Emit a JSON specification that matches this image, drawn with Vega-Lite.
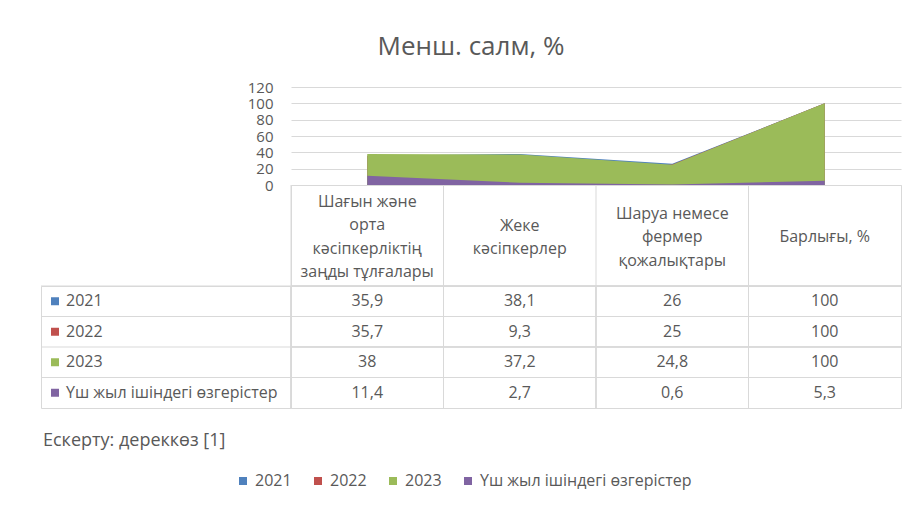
{
  "$schema": "https://vega.github.io/schema/vega-lite/v6.json",
  "padding": {"left": 40, "top": 34, "right": 14, "bottom": 6},
  "title": {"text": "Менш. салм, %", "fontSize": 26, "fontWeight": "normal", "color": "#595959", "anchor": "middle", "offset": 20},
  "spacing": 0,
  "bounds": "flush",
  "columns": 2,
  "datasets": {
    "vals": [
      {"category": "Шағын және орта кәсіпкерліктің заңды тұлғалары", "series": "2021", "value": 35.9},
      {"category": "Жеке кәсіпкерлер", "series": "2021", "value": 38.1},
      {"category": "Шаруа немесе фермер қожалықтары", "series": "2021", "value": 26},
      {"category": "Барлығы, %", "series": "2021", "value": 100},
      {"category": "Шағын және орта кәсіпкерліктің заңды тұлғалары", "series": "2022", "value": 35.7},
      {"category": "Жеке кәсіпкерлер", "series": "2022", "value": 9.3},
      {"category": "Шаруа немесе фермер қожалықтары", "series": "2022", "value": 25},
      {"category": "Барлығы, %", "series": "2022", "value": 100},
      {"category": "Шағын және орта кәсіпкерліктің заңды тұлғалары", "series": "2023", "value": 38},
      {"category": "Жеке кәсіпкерлер", "series": "2023", "value": 37.2},
      {"category": "Шаруа немесе фермер қожалықтары", "series": "2023", "value": 24.8},
      {"category": "Барлығы, %", "series": "2023", "value": 100},
      {"category": "Шағын және орта кәсіпкерліктің заңды тұлғалары", "series": "Үш жыл ішіндегі өзгерістер", "value": 11.4},
      {"category": "Жеке кәсіпкерлер", "series": "Үш жыл ішіндегі өзгерістер", "value": 2.7},
      {"category": "Шаруа немесе фермер қожалықтары", "series": "Үш жыл ішіндегі өзгерістер", "value": 0.6},
      {"category": "Барлығы, %", "series": "Үш жыл ішіндегі өзгерістер", "value": 5.3}
    ],
    "headers": [
      {"category": "Шағын және орта кәсіпкерліктің заңды тұлғалары", "header": "Шағын және\nорта\nкәсіпкерліктің\nзаңды тұлғалары"},
      {"category": "Жеке кәсіпкерлер", "header": "Жеке\nкәсіпкерлер"},
      {"category": "Шаруа немесе фермер қожалықтары", "header": "Шаруа немесе\nфермер\nқожалықтары"},
      {"category": "Барлығы, %", "header": "Барлығы, %"}
    ],
    "seriesList": [
      {"series": "2021"},
      {"series": "2022"},
      {"series": "2023"},
      {"series": "Үш жыл ішіндегі өзгерістер"}
    ],
    "notes": [
      {"note": "Ескерту: дереккөз [1]"}
    ]
  },
  "concat": [
    {
      "width": 250, "height": 98,
      "data": {"name": "notes"},
      "mark": {"type": "text"},
      "encoding": {"text": {"value": ""}},
      "view": {"stroke": null}
    },
    {
      "width": 610, "height": 98,
      "data": {"name": "vals"},
      "mark": {"type": "area", "opacity": 1},
      "encoding": {
        "x": {"field": "category", "type": "nominal", "sort": null,
              "scale": {"type": "point", "padding": 0.5, "domain": ["Шағын және орта кәсіпкерліктің заңды тұлғалары", "Жеке кәсіпкерлер", "Шаруа немесе фермер қожалықтары", "Барлығы, %"]},
              "axis": null},
        "y": {"field": "value", "type": "quantitative", "stack": null,
              "scale": {"domain": [0, 120], "nice": false},
              "axis": {"values": [0, 20, 40, 60, 80, 100, 120], "title": null, "domain": false, "ticks": false,
                       "labelFontSize": 15, "labelColor": "#595959", "gridColor": "#d9d9d9", "labelPadding": 18}},
        "color": {"field": "series", "type": "nominal",
                  "scale": {"domain": ["2021", "2022", "2023", "Үш жыл ішіндегі өзгерістер"], "range": ["#4F81BD", "#C0504D", "#9BBB59", "#8064A2"]},
                  "legend": {"orient": "none", "legendX": 194, "legendY": 386, "direction": "horizontal", "title": null,
                             "symbolType": "square", "symbolSize": 64, "symbolStrokeWidth": 0, "labelFontSize": 16, "labelColor": "#595959",
                             "columnPadding": 18, "labelOffset": 4, "labelLimit": 400}}
      },
      "view": {"stroke": null}
    },
    {
      "width": 250, "height": 101,
      "data": {"name": "notes"},
      "mark": {"type": "text"},
      "encoding": {"text": {"value": ""}},
      "view": {"stroke": null}
    },
    {
      "width": 610, "height": 101,
      "data": {"name": "headers"},
      "encoding": {
        "x": {"field": "category", "type": "nominal", "sort": null,
              "scale": {"type": "band", "paddingInner": 0, "paddingOuter": 0, "domain": ["Шағын және орта кәсіпкерліктің заңды тұлғалары", "Жеке кәсіпкерлер", "Шаруа немесе фермер қожалықтары", "Барлығы, %"]},
              "axis": null}
      },
      "layer": [
        {
          "transform": [{"filter": "datum.category === 'Шағын және орта кәсіпкерліктің заңды тұлғалары'"}],
          "mark": {"type": "text", "lineBreak": "\n", "fontSize": 16, "color": "#595959", "lineHeight": 23.5, "baseline": "middle", "dy": -34},
          "encoding": {"text": {"field": "header", "type": "nominal"}}
        },
        {
          "transform": [{"filter": "datum.category === 'Жеке кәсіпкерлер'"}],
          "mark": {"type": "text", "lineBreak": "\n", "fontSize": 16, "color": "#595959", "lineHeight": 23.5, "baseline": "middle", "dy": -10},
          "encoding": {"text": {"field": "header", "type": "nominal"}}
        },
        {
          "transform": [{"filter": "datum.category === 'Шаруа немесе фермер қожалықтары'"}],
          "mark": {"type": "text", "lineBreak": "\n", "fontSize": 16, "color": "#595959", "lineHeight": 23.5, "baseline": "middle", "dy": -22},
          "encoding": {"text": {"field": "header", "type": "nominal"}}
        },
        {
          "transform": [{"filter": "datum.category === 'Барлығы, %'"}],
          "mark": {"type": "text", "lineBreak": "\n", "fontSize": 16, "color": "#595959", "lineHeight": 23.5, "baseline": "middle", "dy": 1},
          "encoding": {"text": {"field": "header", "type": "nominal"}}
        },
        {
          "mark": {"type": "rule", "color": "#d9d9d9"},
          "encoding": {"x": {"field": "category", "type": "nominal", "bandPosition": 0}}
        }
      ]
    },
    {
      "width": 250, "height": 122,
      "data": {"name": "seriesList"},
      "layer": [
        {
          "mark": {"type": "square", "size": 64, "opacity": 1, "xOffset": 14},
          "encoding": {
            "x": {"datum": "label", "type": "nominal", "scale": {"type": "band", "paddingInner": 0, "paddingOuter": 0}, "bandPosition": 0, "axis": null},
            "y": {"field": "series", "type": "nominal", "sort": null, "scale": {"type": "band", "paddingInner": 0, "paddingOuter": 0}, "axis": null},
            "color": {"field": "series", "type": "nominal"}
          }
        },
        {
          "mark": {"type": "text", "align": "left", "dx": 25, "fontSize": 16, "color": "#595959"},
          "encoding": {
            "x": {"datum": "label", "type": "nominal", "bandPosition": 0},
            "y": {"field": "series", "type": "nominal", "sort": null},
            "text": {"field": "series", "type": "nominal"}
          }
        },
        {
          "mark": {"type": "rule", "color": "#d9d9d9"},
          "encoding": {
            "y": {"field": "series", "type": "nominal", "sort": null, "bandPosition": 0}
          }
        }
      ]
    },
    {
      "width": 610, "height": 122,
      "data": {"name": "vals"},
      "layer": [
        {
          "mark": {"type": "text", "fontSize": 16, "color": "#595959"},
          "encoding": {
            "x": {"field": "category", "type": "nominal", "sort": null,
                  "scale": {"type": "band", "paddingInner": 0, "paddingOuter": 0, "domain": ["Шағын және орта кәсіпкерліктің заңды тұлғалары", "Жеке кәсіпкерлер", "Шаруа немесе фермер қожалықтары", "Барлығы, %"]},
                  "axis": null},
            "y": {"field": "series", "type": "nominal", "sort": null,
                  "scale": {"type": "band", "paddingInner": 0, "paddingOuter": 0, "domain": ["2021", "2022", "2023", "Үш жыл ішіндегі өзгерістер"]},
                  "axis": null},
            "text": {"field": "value", "type": "quantitative", "format": ""}
          }
        },
        {
          "mark": {"type": "rule", "color": "#d9d9d9"},
          "encoding": {"x": {"field": "category", "type": "nominal", "bandPosition": 0}}
        },
        {
          "mark": {"type": "rule", "color": "#d9d9d9"},
          "encoding": {"y": {"field": "series", "type": "nominal", "bandPosition": 0}}
        }
      ]
    },
    {
      "width": 250, "height": 66,
      "data": {"name": "notes"},
      "mark": {"type": "text", "align": "left", "dx": 2, "fontSize": 18, "color": "#595959"},
      "encoding": {
        "x": {"datum": "label", "type": "nominal", "scale": {"type": "band", "paddingInner": 0, "paddingOuter": 0}, "bandPosition": 0, "axis": null},
        "text": {"field": "note", "type": "nominal"}
      },
      "view": {"stroke": null}
    },
    {
      "width": 610, "height": 66,
      "data": {"name": "notes"},
      "mark": {"type": "text"},
      "encoding": {"text": {"value": ""}},
      "view": {"stroke": null}
    }
  ],
  "resolve": {"scale": {"x": "independent", "y": "independent"}},
  "config": {
    "font": "Open Sans",
    "view": {"stroke": "#d9d9d9"},
    "locale": {"number": {"decimal": ",", "thousands": " ", "grouping": [3], "currency": ["", ""]}}
  }
}
